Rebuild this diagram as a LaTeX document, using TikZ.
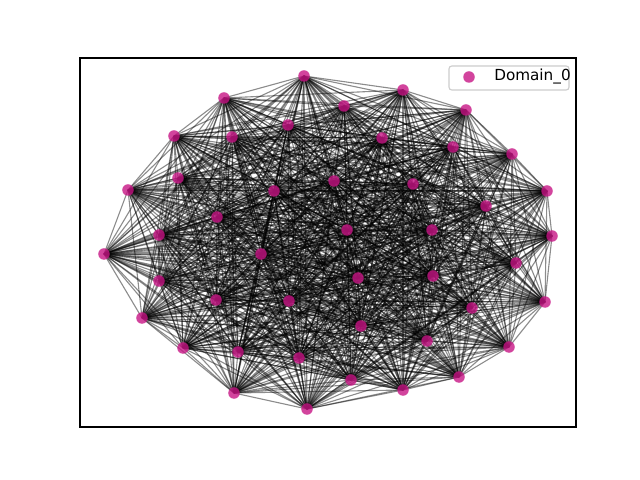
\documentclass[tikz,border=0pt]{standalone}
\usepackage{fontspec}
\setmainfont{DejaVu Sans}
\usetikzlibrary{positioning}
\definecolor{NetPink}{HTML}{C71585}
\definecolor{NetFrame}{HTML}{CCCCCC}
\tikzset{
  vertex/.style={circle,fill=NetPink,fill opacity=0.8,inner sep=0pt,minimum size=0.115in},
  edge/.style={black,draw opacity=0.45,line width=0.8pt},
  spine/.style={draw=black,line width=0.8pt},
  legendbox/.style={draw=NetFrame,fill=white,fill opacity=0.8,line width=0.8pt,rounded corners=2pt},
  legendtext/.style={font=\fontsize{11}{13}\selectfont,text=black,anchor=west,inner sep=0pt},
}

\begin{document}
\begin{tikzpicture}[x=0.01in,y=-0.01in]
  \useasboundingbox (0,0) rectangle (640,480);

  % node positions
  \foreach \x/\y [count=\k] in {
      304/76, 403/90, 466/110, 512/154, 547/191, 552/236, 545/302, 509/347,
      459/377, 403/390, 351/380, 307/409, 234/393, 183/348, 142/318, 104/254,
      128/190, 174/136, 224/98,
      344/106, 288/125, 232/137, 382/138, 453/147, 178/178, 274/191, 334/181,
      413/184, 486/206, 217/217, 159/235, 347/230, 432/230, 261/254, 516/263,
      358/278, 433/276, 159/281, 216/300, 289/301, 472/308, 361/326, 427/341,
      238/352, 299/358}
    \coordinate (p\k) at (\x,\y);

  % edges
  \foreach \i in {1,...,44}{
    \pgfmathtruncatemacro\nxt{\i+1}
    \foreach \j in {\nxt,...,45}
      \draw[edge] (p\i) -- (p\j);
  }

  % vertices
  \foreach \k in {1,...,45}
    \node[vertex] (n\k) at (p\k) {};

  % axes frame
  \draw[spine] (80,58) rectangle (576,427);

  % legend
  \draw[legendbox] (449,66) rectangle (569,90);
  \node[vertex] (key) at (469,77) {};
  \node[legendtext] (keytext) at (494,77) {Domain\_0};
\end{tikzpicture}
\end{document}
